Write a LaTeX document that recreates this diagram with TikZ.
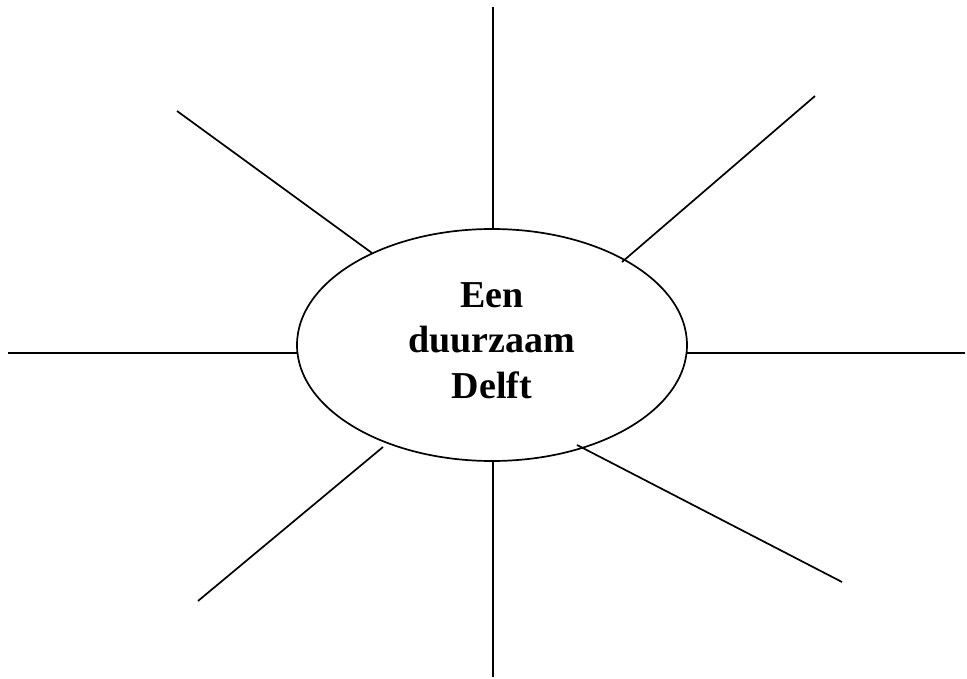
\documentclass[tikz,border=0pt]{standalone}
\usepackage{fontspec}
\setmainfont{Liberation Serif}
\usetikzlibrary{shapes.geometric}
\begin{document}
\begin{tikzpicture}[x=1pt,y=-1pt,
  ray/.style={line width=1.7pt, line cap=butt},
  lbl/.style={font=\fontsize{38}{45}\selectfont\bfseries, anchor=base, inner sep=0pt}]
\useasboundingbox (0,0) rectangle (967,679);
\node[ellipse, draw, line width=1.7pt, minimum width=390pt, minimum height=232pt, inner sep=0pt] (ell) at (492,345) {};
\node[lbl] (t1) at (492,307) {Een};
\node[lbl] (t2) at (492,352) {duurzaam};
\node[lbl] (t3) at (492,398) {Delft};
% outer ends
\coordinate (oT)  at (493,7);
\coordinate (oTL) at (177,111);
\coordinate (oTR) at (815,96);
\coordinate (oL)  at (8,353);
\coordinate (oR)  at (965,353);
\coordinate (oBL) at (198,601);
\coordinate (oB)  at (493,677);
\coordinate (oBR) at (842,582);
% inner ends
\coordinate (iT)  at (493,229);
\coordinate (iTL) at (372,253);
\coordinate (iTR) at (622,262);
\coordinate (iL)  at (297,353);
\coordinate (iR)  at (687,353);
\coordinate (iBL) at (383,447);
\coordinate (iB)  at (493,461);
\coordinate (iBR) at (577,445);
\draw[ray] (oT) -- (iT);
\draw[ray] (oTL) -- (iTL);
\draw[ray] (oTR) -- (iTR);
\draw[ray] (oL) -- (iL);
\draw[ray] (oR) -- (iR);
\draw[ray] (oBL) -- (iBL);
\draw[ray] (oB) -- (iB);
\draw[ray] (oBR) -- (iBR);
\end{tikzpicture}
\end{document}
